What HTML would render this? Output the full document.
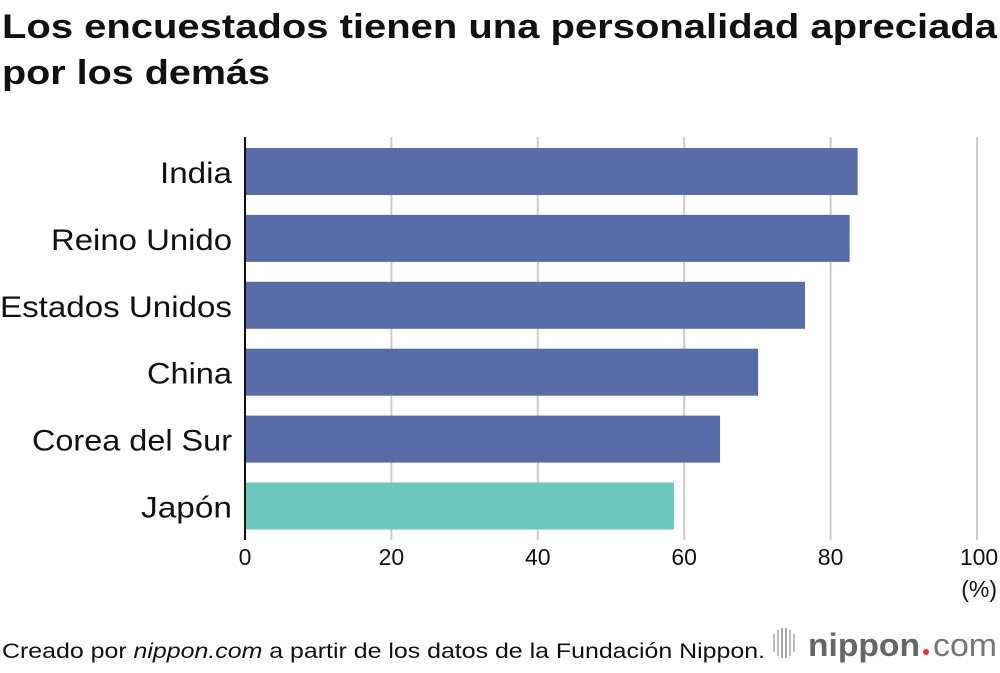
<!DOCTYPE html>
<html><head><meta charset="utf-8"><style>
body{margin:0;background:#fff;width:1000px;height:668px;overflow:hidden;font-family:"Liberation Sans",sans-serif}
</style></head><body>
<svg width="1000" height="668">
<text x="2" y="38" font-size="34" font-weight="bold" fill="#111" textLength="995" lengthAdjust="spacingAndGlyphs">Los encuestados tienen una personalidad apreciada</text>
<text x="2" y="84" font-size="34" font-weight="bold" fill="#111" textLength="268" lengthAdjust="spacingAndGlyphs">por los demás</text>
<g id="grid"></g><g id="bars"></g><g id="labels"></g><g id="ticks"></g>
<line x1="245" y1="137" x2="245" y2="540" stroke="#111" stroke-width="2"/>
<text x="997" y="597" font-size="23" text-anchor="end" fill="#111">(%)</text>
<text x="2" y="658" font-size="21" fill="#111" textLength="763" lengthAdjust="spacingAndGlyphs">Creado por <tspan font-style="italic">nippon.com</tspan> a partir de los datos de la Fundación Nippon.</text>
<g>
<rect x="773" y="634" width="2" height="18" fill="#bbb"/><rect x="777" y="630" width="2" height="26" fill="#bbb"/><rect x="781" y="628" width="2" height="30" fill="#aaa"/><rect x="785" y="628" width="2" height="30" fill="#aaa"/><rect x="789" y="630" width="2" height="26" fill="#bbb"/><rect x="793" y="634" width="2" height="18" fill="#bbb"/>
<text x="808" y="656" font-size="32" font-weight="bold" fill="#666" textLength="112" lengthAdjust="spacingAndGlyphs">nippon</text>
<circle cx="926" cy="652" r="3" fill="#e5322d"/>
<text x="933" y="656" font-size="32" fill="#777" textLength="64" lengthAdjust="spacingAndGlyphs">com</text>
</g>
</svg>
<script>
const categories=["India","Reino Unido","Estados Unidos","China","Corea del Sur","Japón"];
const values=[83.7,82.6,76.5,70.1,64.9,58.6];
const tickValues=[0,20,40,60,80,100];
const labelWidths=[72,181,232,85,200,91];
const ns="http://www.w3.org/2000/svg";
const x=v=>245+v*7.32;
const y=i=>148+i*66.9;
function mk(t,a,p,txt){const e=document.createElementNS(ns,t);for(const k in a)e.setAttribute(k,a[k]);if(txt!==undefined)e.textContent=txt;document.getElementById(p).appendChild(e);return e;}
tickValues.forEach(t=>{
 if(t>0){const g=mk("line",{x1:x(t),x2:x(t),y1:137,y2:540,stroke:"#ccc","stroke-width":2},"grid");
 
 }
 const l=mk("text",{x:t===100?x(t)+2:x(t),y:565,"font-size":23,"text-anchor":"middle",fill:"#111"},"ticks",String(t));
 
 
});
categories.forEach((c,i)=>{
 const b=mk("rect",{x:245,y:y(i),width:x(values[i])-245,height:47,fill:c==="Japón"?"#6bc7bb":"#586ca8"},"bars");
 
 
 const l=mk("text",{x:232,y:y(i)+35,"font-size":30,"text-anchor":"end",fill:"#111",textLength:labelWidths[i],lengthAdjust:"spacingAndGlyphs"},"labels",c);
 
 
});
</script>
</body></html>
